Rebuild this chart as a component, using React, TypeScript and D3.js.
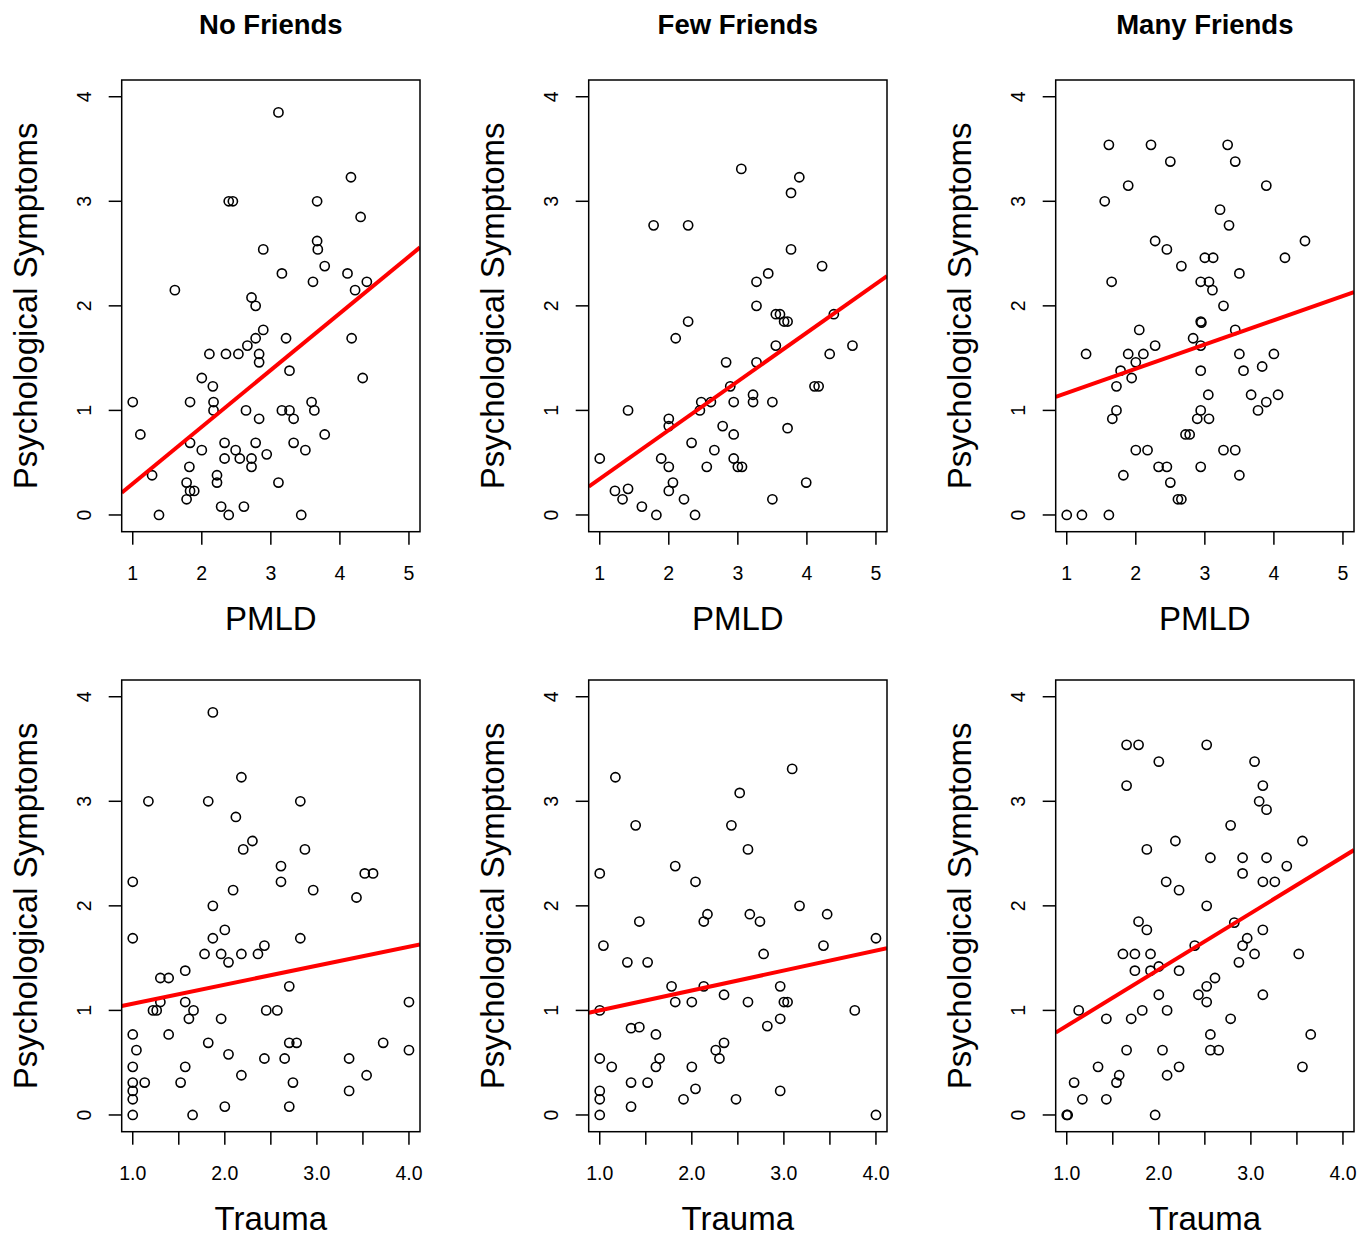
import React from 'react';
import { scaleLinear } from 'd3';

// friend group titles, one per column
const groups = ['No Friends', 'Few Friends', 'Many Friends'];

// [x, y] points: PMLD vs symptoms (top row)
const pmldNone = [
  [3.11,3.85],[4.16,3.23],[2.39,3],[2.45,3],[3.67,3],[4.30,2.85],[2.89,2.54],[3.67,2.62],[3.68,2.54],[3.78,2.38],
  [3.16,2.31],[4.11,2.31],[3.61,2.23],[4.39,2.23],[4.22,2.15],[1.61,2.15],[2.72,2.08],[2.78,2],[2.89,1.77],[2.78,1.69],
  [3.22,1.69],[2.66,1.62],[2.11,1.54],[2.35,1.54],[2.53,1.54],[2.83,1.54],[2.83,1.46],[3.27,1.38],[4.17,1.69],[4.33,1.31],
  [2.00,1.31],[2.16,1.23],[1.00,1.08],[1.83,1.08],[2.17,1.08],[2.17,1],[2.64,1],[3.16,1],[3.27,1],[3.59,1.08],
  [3.63,1],[2.83,0.92],[3.33,0.92],[1.11,0.77],[3.78,0.77],[1.83,0.69],[2.33,0.69],[2.78,0.69],[3.33,0.69],[2.00,0.62],
  [2.49,0.62],[3.50,0.62],[2.33,0.54],[2.55,0.54],[2.72,0.54],[2.94,0.58],[1.82,0.46],[2.72,0.46],[1.28,0.38],[2.22,0.38],
  [1.78,0.31],[2.22,0.31],[3.11,0.31],[1.83,0.23],[1.89,0.23],[1.78,0.15],[2.28,0.08],[2.61,0.08],[1.38,0],[2.39,0],[3.44,0],
];
const pmldFew = [
  [3.05,3.31],[3.89,3.23],[3.77,3.08],[1.78,2.77],[2.28,2.77],[3.77,2.54],[4.22,2.38],[3.44,2.31],[3.27,2.23],[3.27,2],
  [3.55,1.92],[3.61,1.92],[3.67,1.85],[3.72,1.85],[4.39,1.92],[2.28,1.85],[2.10,1.69],[3.55,1.62],[4.66,1.62],[4.33,1.54],
  [2.83,1.46],[3.27,1.46],[2.89,1.23],[4.11,1.23],[4.17,1.23],[3.22,1.15],[2.47,1.08],[2.61,1.08],[2.94,1.08],[3.22,1.08],
  [3.50,1.08],[2.45,1],[1.41,1],[2.00,0.92],[2.00,0.85],[2.78,0.85],[3.72,0.83],[2.94,0.77],[2.33,0.69],[2.66,0.62],
  [1.00,0.54],[1.89,0.54],[2.94,0.54],[2.00,0.46],[2.55,0.46],[3.00,0.46],[3.06,0.46],[3.99,0.31],[2.06,0.31],[1.22,0.23],
  [1.41,0.25],[2.00,0.23],[1.33,0.15],[2.22,0.15],[3.50,0.15],[1.61,0.08],[1.82,0],[2.38,0],
];
const pmldMany = [
  [1.61,3.54],[2.22,3.54],[3.33,3.54],[2.50,3.38],[3.44,3.38],[1.89,3.15],[3.89,3.15],[1.55,3],[3.22,2.92],[3.35,2.77],
  [2.28,2.62],[2.45,2.54],[4.45,2.62],[2.66,2.38],[3.00,2.46],[3.12,2.46],[4.16,2.46],[3.50,2.31],[1.65,2.23],[2.94,2.23],
  [3.06,2.23],[3.11,2.15],[3.27,2],[2.05,1.77],[2.94,1.85],[2.95,1.84],[3.44,1.77],[2.83,1.69],[2.94,1.62],[2.28,1.62],
  [1.28,1.54],[1.89,1.54],[2.11,1.54],[3.50,1.54],[4.00,1.54],[2.00,1.46],[3.83,1.42],[1.78,1.38],[2.94,1.38],[3.56,1.38],
  [1.94,1.31],[1.72,1.23],[3.05,1.15],[3.67,1.15],[4.06,1.15],[3.89,1.08],[1.72,1],[2.94,1],[3.77,1],[1.66,0.92],
  [2.89,0.92],[3.06,0.92],[2.72,0.77],[2.78,0.77],[2.00,0.62],[2.17,0.62],[3.27,0.62],[3.44,0.62],[2.33,0.46],[2.45,0.46],
  [2.94,0.46],[1.82,0.38],[3.50,0.38],[2.50,0.31],[2.61,0.15],[2.66,0.15],[1.00,0],[1.22,0],[1.61,0],
];

// [x, y] points: trauma vs symptoms (bottom row)
const traumaNone = [
  [1.87,3.85],[2.18,3.23],[1.17,3],[1.82,3],[2.82,3],[2.12,2.85],[2.30,2.62],[2.20,2.54],[2.87,2.54],[2.61,2.38],
  [2.61,2.23],[1.00,2.23],[3.52,2.31],[3.61,2.31],[2.09,2.15],[2.96,2.15],[3.43,2.08],[1.87,2],[2.00,1.77],[1.00,1.69],
  [1.87,1.69],[2.82,1.69],[2.43,1.62],[1.78,1.54],[1.96,1.54],[2.18,1.54],[2.36,1.54],[2.04,1.46],[1.57,1.38],[1.30,1.31],
  [1.39,1.31],[2.70,1.23],[1.30,1.08],[1.57,1.08],[4.00,1.08],[1.22,1],[1.26,1],[1.66,1],[2.45,1],[2.57,1],
  [1.61,0.92],[1.96,0.92],[1.00,0.77],[1.39,0.77],[1.82,0.69],[2.70,0.69],[2.78,0.69],[3.72,0.69],[1.04,0.62],[4.00,0.62],
  [2.04,0.58],[1.00,0.46],[1.57,0.46],[2.43,0.54],[2.65,0.54],[3.35,0.54],[2.18,0.38],[3.54,0.38],[1.00,0.31],[1.13,0.31],
  [1.52,0.31],[2.74,0.31],[1.00,0.23],[3.35,0.23],[1.00,0.15],[1.00,0],[1.65,0],[2.00,0.08],[2.70,0.08],
];
const traumaFew = [
  [1.17,3.23],[3.09,3.31],[2.52,3.08],[1.39,2.77],[2.43,2.77],[2.61,2.54],[1.82,2.38],[1.00,2.31],[2.04,2.23],[3.17,2],
  [2.17,1.92],[2.63,1.92],[3.47,1.92],[2.13,1.85],[2.74,1.85],[1.43,1.85],[1.04,1.62],[3.43,1.62],[4.00,1.69],[2.78,1.54],
  [1.30,1.46],[1.52,1.46],[1.78,1.23],[2.13,1.23],[2.96,1.23],[2.35,1.15],[1.82,1.08],[2.00,1.08],[2.61,1.08],[3.00,1.08],
  [3.04,1.08],[1.00,1],[3.77,1],[2.96,0.92],[1.34,0.83],[1.43,0.84],[2.82,0.85],[1.61,0.77],[2.35,0.69],[2.26,0.62],
  [2.30,0.54],[1.00,0.54],[1.65,0.54],[1.13,0.46],[1.61,0.46],[2.00,0.46],[1.34,0.31],[1.52,0.31],[2.04,0.25],[2.96,0.23],
  [1.00,0.23],[1.00,0.15],[1.91,0.15],[2.48,0.15],[1.34,0.08],[1.00,0],[4.00,0],
];
const traumaMany = [
  [1.65,3.54],[1.78,3.54],[2.52,3.54],[2.00,3.38],[3.04,3.38],[1.65,3.15],[3.13,3.15],[3.09,3],[3.17,2.92],[2.78,2.77],
  [2.18,2.62],[3.56,2.62],[1.87,2.54],[2.56,2.46],[2.91,2.46],[3.17,2.46],[3.39,2.38],[2.91,2.31],[2.08,2.23],[3.13,2.23],
  [3.26,2.23],[2.22,2.15],[2.52,2],[1.78,1.85],[1.87,1.77],[2.82,1.84],[3.13,1.77],[2.96,1.69],[2.91,1.62],[2.39,1.62],
  [1.61,1.54],[1.74,1.54],[1.91,1.54],[3.04,1.54],[3.52,1.54],[2.87,1.46],[1.74,1.38],[1.91,1.38],[2.00,1.42],[2.22,1.38],
  [2.61,1.31],[2.52,1.23],[2.43,1.15],[3.13,1.15],[2.00,1.15],[2.52,1.08],[1.13,1],[1.82,1],[2.09,1],[1.43,0.92],
  [1.70,0.92],[2.78,0.92],[2.56,0.77],[3.65,0.77],[1.65,0.62],[2.04,0.62],[2.56,0.62],[2.65,0.62],[1.34,0.46],[2.22,0.46],
  [3.56,0.46],[1.57,0.38],[2.09,0.38],[1.08,0.31],[1.54,0.31],[1.17,0.15],[1.43,0.15],[1.00,0],[1.01,0],[1.96,0],
];

// fitted lines [intercept, slope] per panel
const pmldFits = [[-0.243, 0.543], [-0.12, 0.466], [0.935, 0.232]];
const traumaFits = [[0.882, 0.182], [0.811, 0.19], [0.313, 0.539]];

// axis ticks
const pmldTicks = [1, 2, 3, 4, 5];
const traumaTicks = [1, 1.5, 2, 2.5, 3, 3.5, 4];
const traumaTickLabels = ['1.0', '2.0', '3.0', '4.0'];
const symptomTicks = [0, 1, 2, 3, 4];

const FONT = '"Liberation Sans", Arial, Helvetica, sans-serif';
const colLeft = [121.7, 588.7, 1055.7];
const rowTop = [80, 680];
const pw = 298.3;
const ph = 451.7;

const rows = [
  { label: 'PMLD', domain: [1, 5], ticks: pmldTicks, labels: pmldTicks.map(String), labelAt: pmldTicks, data: [pmldNone, pmldFew, pmldMany], fits: pmldFits },
  { label: 'Trauma', domain: [1, 4], ticks: traumaTicks, labels: traumaTickLabels, labelAt: [1, 2, 3, 4], data: [traumaNone, traumaFew, traumaMany], fits: traumaFits },
];

function Panel({ row, ri, ci }) {
  const left = colLeft[ci];
  const top = rowTop[ri];
  const [d0, d1] = row.domain;
  const pad = (d1 - d0) * 0.04;
  const x = scaleLinear().domain([d0 - pad, d1 + pad]).range([left, left + pw]);
  const y = scaleLinear().domain([-0.16, 4.16]).range([top + ph, top]);
  const [a, b] = row.fits[ci];
  const xd = x.domain();
  const clipId = `clip-${ri}-${ci}`;
  const cx = left + pw / 2;
  return (
    <g>
      <clipPath id={clipId}>
        <rect x={left} y={top} width={pw} height={ph} />
      </clipPath>
      {ri === 0 && (
        <text x={cx} y={33.5} textAnchor="middle" fontSize={27.5} fontWeight="bold" fontFamily={FONT}>
          {groups[ci]}
        </text>
      )}
      {row.data[ci].map((d, i) => (
        <circle key={i} cx={x(d[0])} cy={y(d[1])} r={4.6} fill="none" stroke="#000" strokeWidth={1.6} />
      ))}
      <line
        clipPath={`url(#${clipId})`}
        x1={x(xd[0])} y1={y(a + b * xd[0])} x2={x(xd[1])} y2={y(a + b * xd[1])}
        stroke="#ff0000" strokeWidth={4}
      />
      <rect x={left} y={top} width={pw} height={ph} fill="none" stroke="#000" strokeWidth={1.5} />
      {row.ticks.map((t) => (
        <line key={t} x1={x(t)} x2={x(t)} y1={top + ph} y2={top + ph + 13} stroke="#000" strokeWidth={1.5} />
      ))}
      {row.labelAt.map((t, i) => (
        <text key={t} x={x(t)} y={top + 500} textAnchor="middle" fontSize={19.5} fontFamily={FONT}>
          {row.labels[i]}
        </text>
      ))}
      <text x={cx} y={top + 550} textAnchor="middle" fontSize={33} fontFamily={FONT}>
        {row.label}
      </text>
      {symptomTicks.map((t) => (
        <g key={t}>
          <line x1={left - 13} x2={left} y1={y(t)} y2={y(t)} stroke="#000" strokeWidth={1.5} />
          <text transform={`translate(${left - 31},${y(t)}) rotate(-90)`} textAnchor="middle" fontSize={19.5} fontFamily={FONT}>
            {t}
          </text>
        </g>
      ))}
      <text transform={`translate(${left - 84.5},${top + ph / 2}) rotate(-90)`} textAnchor="middle" fontSize={33} fontFamily={FONT}>
        Psychological Symptoms
      </text>
    </g>
  );
}

export default function App() {
  return (
    <svg width={1370} height={1236} style={{ position: 'absolute', left: 0, top: 0, background: '#fff' }}>
      {rows.map((row, ri) => groups.map((g, ci) => <Panel key={`${ri}-${ci}`} row={row} ri={ri} ci={ci} />))}
    </svg>
  );
}
